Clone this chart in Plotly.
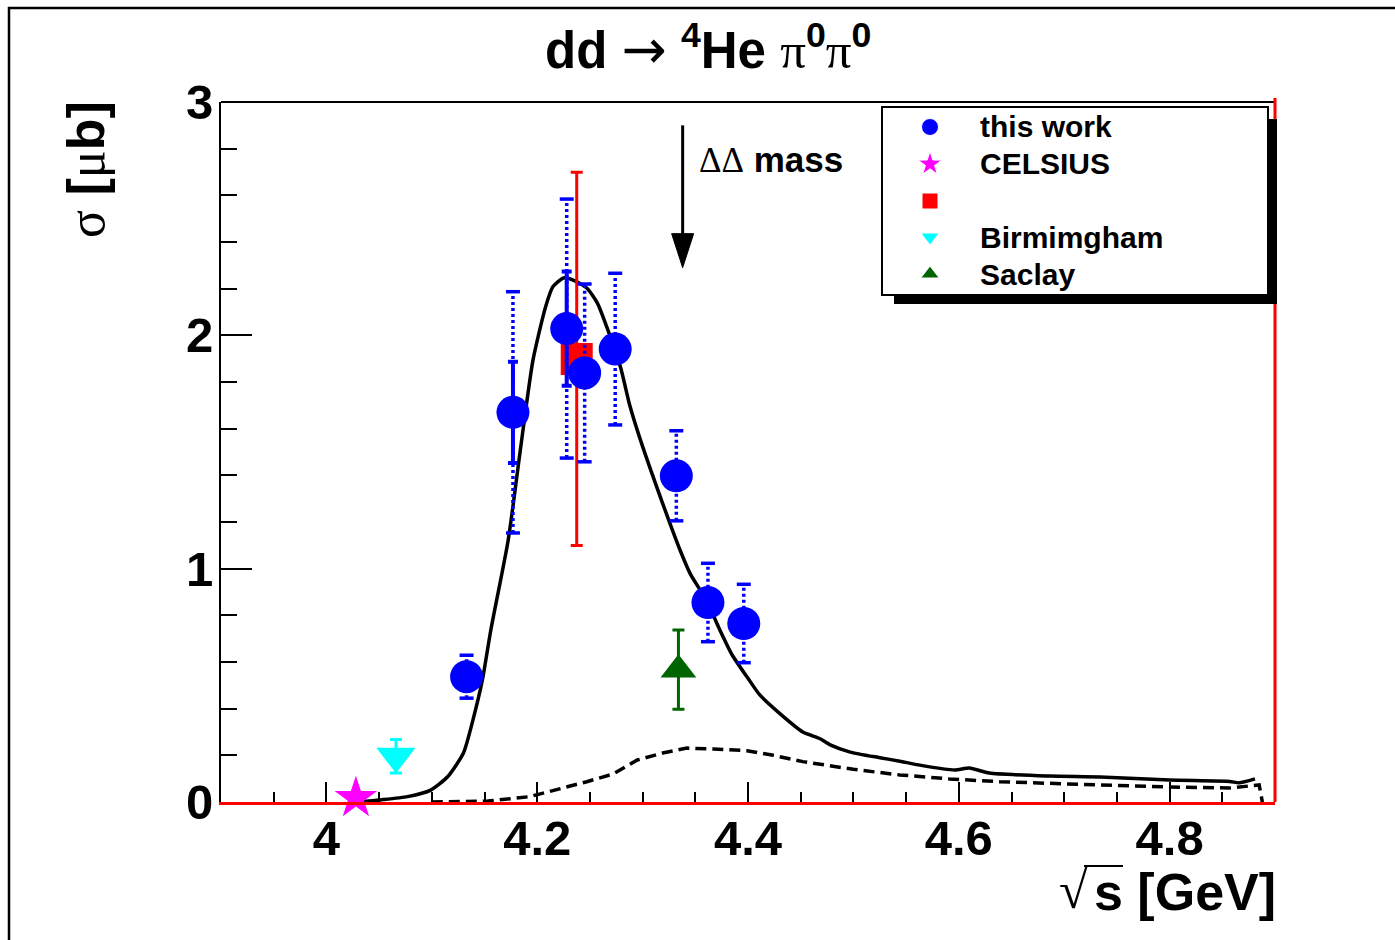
import plotly.graph_objects as go

# ---------------- data ----------------
# this work: sqrt(s) [GeV], sigma [mub], statistical and systematic errors
this_x = [4.133, 4.177, 4.228, 4.245, 4.274, 4.332, 4.362, 4.396]
this_y = [0.537, 1.670, 2.029, 1.839, 1.941, 1.398, 0.855, 0.765]
this_stat = [0.04, 0.217, 0.245, 0.06, 0.05, 0.05, 0.05, 0.05]
this_sys = [0.092, 0.517, 0.555, 0.381, 0.325, 0.193, 0.168, 0.168]

celsius_x = [4.028]
celsius_y = [0.017]

red_x = [4.2375]
red_y = [1.899]
red_err = [0.80]

birm_x = [4.066]
birm_y = [0.196]
birm_err = [0.072]

saclay_x = [4.334]
saclay_y = [0.567]
saclay_err = [0.17]

# model calculation (solid) and its background part (dashed)
model_x = [4.030, 4.051, 4.077, 4.099, 4.115, 4.130, 4.139, 4.148, 4.156, 4.1725,
           4.184, 4.196, 4.208, 4.215, 4.225, 4.234, 4.247, 4.257, 4.266, 4.279,
           4.288, 4.298, 4.319, 4.3355, 4.345, 4.361, 4.372, 4.385, 4.400, 4.411,
           4.430, 4.452, 4.468, 4.478, 4.497, 4.525, 4.544, 4.563, 4.596, 4.610,
           4.629, 4.686, 4.734, 4.800, 4.857, 4.866, 4.881]
model_y = [0.000, 0.009, 0.023, 0.051, 0.108, 0.210, 0.351, 0.523, 0.737, 1.123,
           1.509, 1.894, 2.123, 2.209, 2.246, 2.237, 2.203, 2.139, 2.036, 1.864,
           1.697, 1.551, 1.280, 1.080, 0.980, 0.860, 0.750, 0.630, 0.530, 0.460,
           0.380, 0.300, 0.272, 0.245, 0.214, 0.190, 0.175, 0.158, 0.137, 0.146,
           0.124, 0.111, 0.107, 0.094, 0.088, 0.082, 0.099]

bg_x = [4.100, 4.153, 4.193, 4.206, 4.225, 4.247, 4.272, 4.295, 4.319, 4.342,
        4.367, 4.399, 4.424, 4.452, 4.500, 4.544, 4.591, 4.639, 4.734, 4.800,
        4.857, 4.885, 4.888]
bg_y = [0.000, 0.004, 0.023, 0.038, 0.060, 0.087, 0.120, 0.180, 0.210, 0.231,
        0.227, 0.220, 0.200, 0.173, 0.140, 0.116, 0.099, 0.087, 0.073, 0.064,
        0.060, 0.073, 0.000]

# Delta-Delta mass marker
dd_mass_x = 4.338
dd_arrow_top = 2.90
dd_arrow_tip = 2.29

legend_names = ["this work", "CELSIUS", "", "Birmimgham", "Saclay"]
legend_symbols = ["circle", "star", "square", "triangle-down", "triangle-up"]
legend_colors = ["#0000ff", "#ff00ff", "#ff0000", "#00ffff", "#006400"]
legend_sizes = [17, 18, 16, 16, 16]

x_range = [3.9, 4.9]
y_range = [0, 3]

# ---------------- layout geometry (pixels) ----------------
W, H = 1395, 940
L, R, T, B = 221, 120, 102, 138
PW, PH = W - L - R, H - T - B


def px_x(p):
    return (p - L) / PW


def px_y(p):
    return (H - B - p) / PH


SANS = "Liberation Sans"
SERIF = "Liberation Serif"
BLUE = "#0000ff"


def bar_segments(xs, ys, errs):
    sx, sy = [], []
    for x, y, e in zip(xs, ys, errs):
        sx += [x, x, None]
        sy += [y - e, y + e, None]
    return sx, sy


def cap_points(xs, ys, errs):
    cx = list(xs) + list(xs)
    cy = [y - e for y, e in zip(ys, errs)] + [y + e for y, e in zip(ys, errs)]
    return cx, cy


fig = go.Figure()

# model curves
fig.add_trace(go.Scatter(x=bg_x, y=bg_y, mode="lines",
                         line=dict(color="black", width=3.5, dash="11px,6px"),
                         showlegend=False))
fig.add_trace(go.Scatter(x=model_x, y=model_y, mode="lines",
                         line=dict(color="black", width=3.5, shape="spline", smoothing=0.6),
                         showlegend=False))

# red point
fig.add_trace(go.Scatter(x=red_x, y=red_y, mode="markers",
                         marker=dict(symbol="square", size=32, color="#ff0000"),
                         error_y=dict(type="data", array=red_err, color="#ff0000",
                                      thickness=3, width=6),
                         showlegend=False))

# systematic (dotted) bars of this work
sx, sy = bar_segments(this_x, this_y, this_sys)
fig.add_trace(go.Scatter(x=sx, y=sy, mode="lines",
                         line=dict(color=BLUE, width=3.5, dash="3px,3px"),
                         showlegend=False))
cx, cy = cap_points(this_x, this_y, this_sys)
fig.add_trace(go.Scatter(x=cx, y=cy, mode="markers",
                         marker=dict(symbol="line-ew", size=10,
                                     line=dict(color=BLUE, width=3.5)),
                         showlegend=False))

# this work with statistical bars
fig.add_trace(go.Scatter(x=this_x, y=this_y, mode="markers",
                         marker=dict(symbol="circle", size=33, color=BLUE),
                         error_y=dict(type="data", array=this_stat, color=BLUE,
                                      thickness=4, width=5),
                         showlegend=False))

# other experiments
fig.add_trace(go.Scatter(x=celsius_x, y=celsius_y, mode="markers",
                         marker=dict(symbol="star", size=32, color="#ff00ff"),
                         cliponaxis=False, showlegend=False))
fig.add_trace(go.Scatter(x=birm_x, y=birm_y, mode="markers",
                         marker=dict(symbol="triangle-down", size=34, color="#00ffff"),
                         error_y=dict(type="data", array=birm_err, color="#00ffff",
                                      thickness=3, width=6),
                         showlegend=False))
fig.add_trace(go.Scatter(x=saclay_x, y=saclay_y, mode="markers",
                         marker=dict(symbol="triangle-up", size=31, color="#006400"),
                         error_y=dict(type="data", array=saclay_err, color="#006400",
                                      thickness=3, width=6),
                         showlegend=False))

# Delta-Delta arrow shaft
fig.add_trace(go.Scatter(x=[dd_mass_x, dd_mass_x], y=[dd_arrow_top, dd_arrow_tip + 0.1],
                         mode="lines", line=dict(color="black", width=3),
                         showlegend=False))

# legend markers on an overlay axis spanning the plot area in [0, 1]
leg_rows_px = [127, 164, 201, 237, 274]
leg_marker_px = 930
leg_text_px = 978
fig.add_trace(go.Scatter(x=[px_x(leg_marker_px)] * len(legend_names),
                         y=[px_y(p) for p in leg_rows_px],
                         mode="markers", xaxis="x3", yaxis="y3",
                         marker=dict(symbol=legend_symbols, size=legend_sizes,
                                     color=legend_colors, opacity=1),
                         cliponaxis=False, showlegend=False))

shapes = [
    # canvas border
    dict(type="rect", xref="paper", yref="paper", x0=px_x(9), x1=px_x(1500),
         y0=px_y(1000), y1=px_y(8), line=dict(color="black", width=2.5), layer="below"),
    # top frame
    dict(type="line", xref="paper", yref="paper", x0=0, x1=1, y0=1, y1=1,
         line=dict(color="black", width=2), layer="below"),
    # right edge
    dict(type="line", xref="paper", yref="paper", x0=1, x1=1, y0=0, y1=px_y(98),
         line=dict(color="#ff0000", width=3), layer="below"),
    # legend shadow and box
    dict(type="rect", xref="paper", yref="paper", x0=px_x(894), x1=px_x(1277),
         y0=px_y(304), y1=px_y(119), fillcolor="black", line=dict(width=0), layer="below"),
    dict(type="rect", xref="paper", yref="paper", x0=px_x(882), x1=px_x(1268),
         y0=px_y(295), y1=px_y(107), fillcolor="white",
         line=dict(color="black", width=2), layer="below"),
    # arrow head, anchored at the arrow tip
    dict(type="path", xref="x", yref="y", xsizemode="pixel", ysizemode="pixel",
         xanchor=dd_mass_x, yanchor=dd_arrow_tip,
         path="M 0,0 L -11,34 L 11,34 Z", fillcolor="black",
         line=dict(color="black", width=1), layer="above"),
    # bar of the square-root sign in the x title
    dict(type="line", xref="paper", yref="paper", x0=px_x(1084), x1=px_x(1123),
         y0=px_y(866), y1=px_y(866), line=dict(color="black", width=2)),
]

annotations = [
    dict(xref="paper", yref="paper", x=px_x(708), y=px_y(48), showarrow=False,
         xanchor="center", yanchor="middle",
         text=("dd <span style='font-family:DejaVu Sans;font-weight:normal;font-size:54px'>\u2192</span> "
               "<sup>4</sup>He <span style='font-family:%s;font-weight:normal'>\u03c0</span>"
               "<sup>0</sup><span style='font-family:%s;font-weight:normal'>\u03c0</span>"
               "<sup>0</sup>") % (SERIF, SERIF),
         font=dict(family=SANS, size=51, weight="bold", color="black")),
    dict(xref="paper", yref="paper", x=px_x(86), y=px_y(170), showarrow=False,
         textangle=-90, xanchor="center", yanchor="middle",
         text=("<span style='font-family:%s;font-weight:normal'>\u03c3</span> "
               "[<span style='font-family:%s;font-weight:normal'>\u03bc</span>b]") % (SERIF, SERIF),
         font=dict(family=SANS, size=52, weight="bold", color="black")),
    dict(xref="paper", yref="paper", x=px_x(1278), y=px_y(892), showarrow=False,
         xanchor="right", yanchor="middle", text="s [GeV]",
         font=dict(family=SANS, size=52, weight="bold", color="black")),
    dict(xref="paper", yref="paper", x=px_x(1090), y=px_y(890), showarrow=False,
         xanchor="right", yanchor="middle", text="\u221a",
         font=dict(family=SERIF, size=52, color="black")),
    dict(xref="x", yref="y", x=dd_mass_x + 0.014, y=2.75, showarrow=False,
         xanchor="left", yanchor="middle",
         text="<span style='font-family:%s;font-weight:normal'>\u0394\u0394</span> mass" % SERIF,
         font=dict(family=SANS, size=35, weight="bold", color="black")),
]
for name, row in zip(legend_names, leg_rows_px):
    if name:
        annotations.append(dict(xref="paper", yref="paper", x=px_x(leg_text_px),
                                y=px_y(row), showarrow=False, xanchor="left",
                                yanchor="middle", text=name,
                                font=dict(family=SANS, size=30, weight="bold",
                                          color="black")))

fig.update_layout(
    width=W, height=H,
    margin=dict(l=L, r=R, t=T, b=B, pad=0),
    paper_bgcolor="white", plot_bgcolor="white",
    showlegend=False,
    shapes=shapes, annotations=annotations,
    xaxis=dict(range=x_range, showgrid=False, zeroline=False,
               showline=True, linecolor="#ff0000", linewidth=3,
               ticks="inside", ticklen=20, tickwidth=2, tickcolor="black",
               tick0=4.0, dtick=0.2, ticklabelstandoff=-9,
               minor=dict(ticks="inside", ticklen=10, tickwidth=2, tickcolor="black",
                          dtick=0.05, showgrid=False),
               tickfont=dict(family=SANS, size=49, weight="bold", color="black")),
    yaxis=dict(range=y_range, showgrid=False, zeroline=False,
               showline=True, linecolor="black", linewidth=2,
               ticks="inside", ticklen=31, tickwidth=2, tickcolor="black",
               tick0=0, dtick=1, ticklabelstandoff=-4,
               minor=dict(ticks="inside", ticklen=16, tickwidth=2, tickcolor="black",
                          dtick=0.2, showgrid=False),
               tickfont=dict(family=SANS, size=49, weight="bold", color="black")),
    xaxis3=dict(range=[0, 1], overlaying="x", anchor="y3", visible=False),
    yaxis3=dict(range=[0, 1], overlaying="y", anchor="x3", visible=False),
)

fig.write_html("out.html")
